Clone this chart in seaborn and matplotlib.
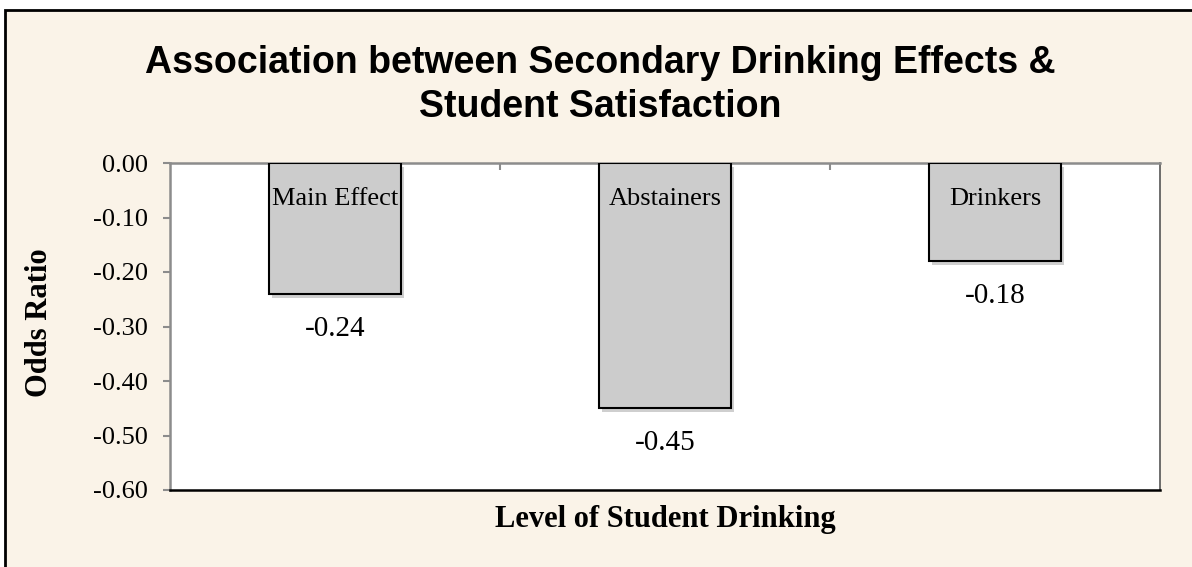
#!/usr/bin/env python3
# -*- coding: utf-8 -*-

import numpy as np
import pandas as pd
import matplotlib
matplotlib.use('Agg')
import matplotlib.pyplot as plt
import matplotlib.patheffects as pe
from matplotlib.patches import Rectangle
import seaborn as sns

# --------------------
# DATA
# --------------------
groups = ['Main Effect', 'Abstainers', 'Drinkers']
odds_ratio = [-0.24, -0.45, -0.18]
yticks = [0.0, -0.1, -0.2, -0.3, -0.4, -0.5, -0.6]

title = 'Association between Secondary Drinking Effects &\nStudent Satisfaction'
xlabel = 'Level of Student Drinking'
ylabel = 'Odds Ratio'

# --------------------
# STYLE
# --------------------
bg = '#FAF3E8'
bar_color = '#CCCCCC'
spine_gray = '#8C8C8C'
serif = ['Liberation Serif', 'DejaVu Serif']
sans = ['Liberation Sans', 'DejaVu Sans']

sns.set_style('white')
plt.rcParams['font.family'] = serif
plt.rcParams['text.color'] = 'black'
plt.rcParams['xtick.labelcolor'] = 'black'
plt.rcParams['ytick.labelcolor'] = 'black'

df = pd.DataFrame({'group': groups, 'value': odds_ratio})

fig = plt.figure(figsize=(11.92, 5.67), dpi=100, facecolor='white')
# cream panel with black frame on left/top edges
fig.add_artist(Rectangle((5 / 1192, -0.05), 1.2, 1.05 - 10 / 567,
                         transform=fig.transFigure, facecolor=bg,
                         edgecolor='black', linewidth=2, zorder=-10))

ax = fig.add_axes([170 / 1192, 1 - 490 / 567, 990 / 1192, 327 / 567])
ax.set_facecolor('white')

sns.barplot(data=df, x='group', y='value', order=groups, color=bar_color,
            edgecolor='black', linewidth=1.5, width=0.4, saturation=1,
            ax=ax, zorder=3)

for p in ax.patches:
    p.set_path_effects([pe.SimplePatchShadow(offset=(2, -3), shadow_rgbFace='#777777', alpha=0.35),
                        pe.Normal()])

ax.set_xlim(-0.5, len(groups) - 0.5)
ax.set_ylim(-0.6, 0.0)
ax.set_yticks(yticks)
ax.set_yticklabels(['{:.2f}'.format(t) for t in yticks], fontsize=19, family=serif, color='black')

# x axis sits at zero (top), ticks between categories
ax.xaxis.tick_top()
ax.set_xticks(np.arange(len(groups) - 1) + 0.5)
ax.set_xticklabels([])
ax.tick_params(axis='x', direction='in', length=5, width=1.5, color=spine_gray, top=True, bottom=False)
ax.tick_params(axis='y', direction='out', length=5, width=1.5, color=spine_gray, left=True, pad=11)

for side in ['top', 'left']:
    ax.spines[side].set_color(spine_gray)
    ax.spines[side].set_linewidth(1.8)
ax.spines['bottom'].set_color('black')
ax.spines['bottom'].set_linewidth(1.8)
ax.spines['right'].set_color('#555555')
ax.spines['right'].set_linewidth(1.2)
for s in ax.spines.values():
    s.set_visible(True)

ax.set_xlabel('')
ax.set_ylabel('')

# labels inside bars and values under bars
for i, (g, v) in enumerate(zip(groups, odds_ratio)):
    ax.annotate(g, xy=(i, 0), xytext=(0, -26), textcoords='offset points',
                ha='center', va='center', fontsize=19, family=serif, color='black', zorder=5)
    ax.annotate('{:.2f}'.format(v), xy=(i, v), xytext=(0, -25), textcoords='offset points',
                ha='center', va='center', fontsize=21, family=serif, color='black', zorder=5)

fig.text(600 / 1192, 1 - 85 / 567, title, ha='center', va='center', multialignment='center',
         fontsize=27, fontweight='bold', family=sans, linespacing=1.3, color='black')
fig.text(665 / 1192, 1 - 520 / 567, xlabel, ha='center', va='center',
         fontsize=22, fontweight='bold', family=serif, color='black')
fig.text(40 / 1192, 1 - 323 / 567, ylabel, ha='center', va='center', rotation=90,
         fontsize=22, fontweight='bold', family=serif, color='black')

fig.savefig('out.png', dpi=100, facecolor=fig.get_facecolor())
plt.close()
